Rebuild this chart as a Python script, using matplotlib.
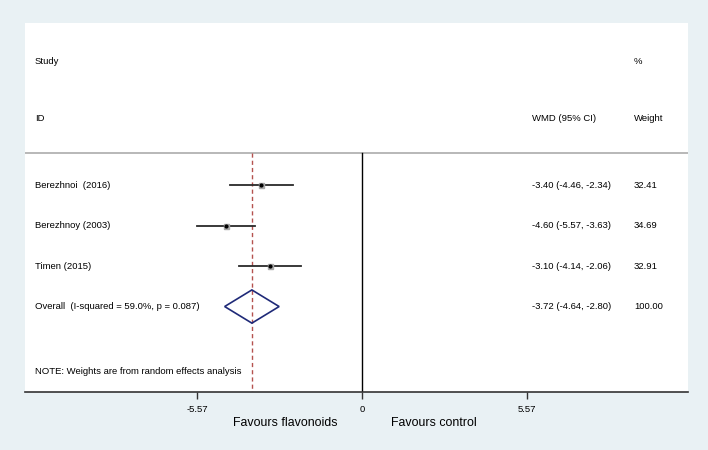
import matplotlib
matplotlib.use("Agg")
import matplotlib.pyplot as plt
from matplotlib.patches import Polygon

plt.rcParams['font.family'] = ['Liberation Sans', 'DejaVu Sans']

# study data
studies = ["Berezhnoi  (2016)", "Berezhnoy (2003)", "Timen (2015)"]
wmd = [-3.40, -4.60, -3.10]
lo = [-4.46, -5.57, -4.14]
hi = [-2.34, -3.63, -2.06]
weights = ["32.41", "34.69", "32.91"]

overall_label = "Overall  (I-squared = 59.0%, p = 0.087)"
overall = -3.72
overall_lo = -4.64
overall_hi = -2.80
overall_weight = "100.00"

ticks = [-5.57, 0, 5.57]
tick_labels = ["-5.57", "0", "5.57"]

bg = "#e9f1f4"
fig = plt.figure(figsize=(7.08, 4.5), dpi=100, facecolor=bg)
ax = fig.add_axes([25 / 708, 58 / 450, 663 / 708, 369 / 450])
ax.set_facecolor("white")

# x scale: ~29.6 px per unit, zero at x=362 px
ax.set_xlim((25 - 362) / 29.6, (688 - 362) / 29.6)
# rows: row k at y = 144.5 + 40.5*k px
ax.set_ylim(6.11, -3.0)

tr = ax.get_yaxis_transform()  # x axes fraction, y data
fs = 6.8
xt = (35 - 25) / 663
xc = (532 - 25) / 663
xw = (634 - 25) / 663

ax.text(xt, -2.06, "Study", transform=tr, fontsize=fs, va="center")
ax.text(xt, -0.65, "ID", transform=tr, fontsize=fs, va="center")
ax.text(xc, -0.65, "WMD (95% CI)", transform=tr, fontsize=fs, va="center")
ax.text(xw, -2.06, "%", transform=tr, fontsize=fs, va="center")
ax.text(xw, -0.65, "Weight", transform=tr, fontsize=fs, va="center")

ax.axhline(0.21, color="#b8b8b8", lw=1.4)

ax.plot([0, 0], [0.21, 6.11], color="black", lw=1.0, zorder=2)
ax.plot([overall, overall], [0.21, 6.11], color="#b5524f", lw=1.0,
        ls=(0, (3, 2.2)), zorder=2)

for i, name in enumerate(studies):
    y = i + 1
    ax.plot([lo[i], hi[i]], [y, y], color="#2a2a2a", lw=1.3, zorder=3)
    ax.plot(wmd[i], y, marker="s", ms=3.6, mfc="#a8a8a8", mec="#a8a8a8", zorder=4)
    ax.plot(wmd[i], y, marker="o", ms=2.0, color="black", zorder=5)
    ax.text(xt, y, name, transform=tr, fontsize=fs, va="center")
    ax.text(xc, y, "%.2f (%.2f, %.2f)" % (wmd[i], lo[i], hi[i]),
            transform=tr, fontsize=fs, va="center")
    ax.text(xw, y, weights[i], transform=tr, fontsize=fs, va="center")

yo = 4
dh = 0.41
diamond = Polygon([[overall_lo, yo], [overall, yo - dh], [overall_hi, yo],
                   [overall, yo + dh]], closed=True, fill=False,
                  edgecolor="#1f2a78", lw=1.2, zorder=4)
ax.add_patch(diamond)
ax.text(xt, yo, overall_label, transform=tr, fontsize=fs, va="center")
ax.text(xc, yo, "%.2f (%.2f, %.2f)" % (overall, overall_lo, overall_hi),
        transform=tr, fontsize=fs, va="center")
ax.text(xw, yo, overall_weight, transform=tr, fontsize=fs, va="center")

ax.text(xt, 5.6, "NOTE: Weights are from random effects analysis",
        transform=tr, fontsize=fs, va="center")

for s in ["top", "left", "right"]:
    ax.spines[s].set_visible(False)
ax.spines["bottom"].set_color("#333333")
ax.spines["bottom"].set_linewidth(1.2)
ax.set_yticks([])
ax.set_xticks(ticks)
ax.set_xticklabels(tick_labels, fontsize=fs)
ax.tick_params(axis="x", length=5, width=1, color="#333333", pad=4)

fig.text(285 / 708, 1 - 423 / 450, "Favours flavonoids", fontsize=8.9,
         ha="center", va="center")
fig.text(434 / 708, 1 - 423 / 450, "Favours control", fontsize=8.9,
         ha="center", va="center")

fig.savefig("out.png", dpi=100, facecolor=bg)
